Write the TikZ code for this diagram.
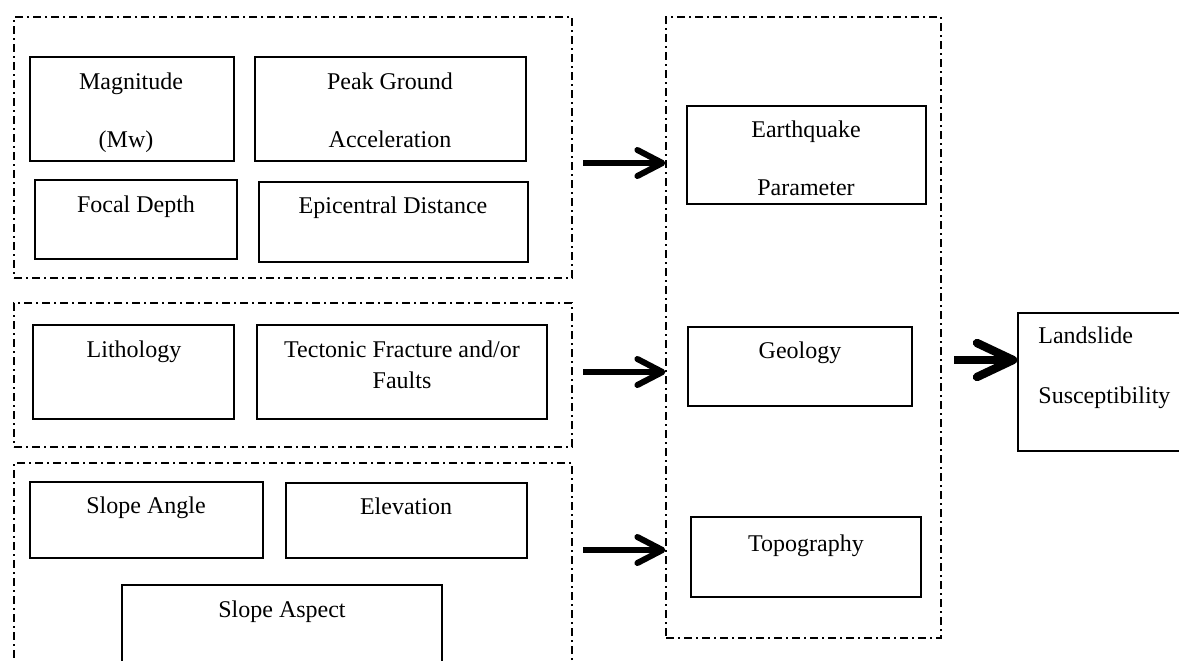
\documentclass[tikz,border=0pt]{standalone}
\usepackage{fontspec}
\setmainfont{Liberation Serif}
\usetikzlibrary{arrows.meta,fit}
\begin{document}
\begin{tikzpicture}[x=0.5pt,y=-0.5pt,
  grp/.style={draw, line width=0.6pt, dash pattern=on 4pt off 2pt on 1pt off 2pt, inner sep=0pt},
  box/.style={draw, line width=0.8pt, inner sep=0pt},
  lbl/.style={anchor=base, inner sep=0pt, font=\fontsize{12pt}{14pt}\selectfont},
  lbll/.style={anchor=base west, inner sep=0pt, font=\fontsize{12pt}{14pt}\selectfont},
  arr/.style={line width=2.6pt, -{Straight Barb[length=12.5pt,width=13pt,line width=3pt,round]}},
  bigarr/.style={line width=4pt, -{Straight Barb[length=18pt,width=17pt,line width=4.2pt,round]}}]
\useasboundingbox (0,0) rectangle (1179,660);
\clip (0,0) rectangle (1179,660);

% groups
\node[grp, fit={(14,17) (572,278)}] (g1) {};
\node[grp, fit={(14,303) (572,447)}] (g2) {};
\node[grp, fit={(14,463) (572,690)}] (g3) {};
\node[grp, fit={(666,17) (941,638)}] (cg) {};

% earthquake group boxes
\node[box, fit={(30,57) (234,161)}] (mag) {};
\node[box, fit={(255,57) (526,161)}] (pga) {};
\node[box, fit={(35,180) (237,259)}] (fd) {};
\node[box, fit={(259,182) (528,262)}] (ed) {};
\node[lbl] (tmag1) at (131,89) {Magnitude};
\node[lbl] (tmag2) at (126,147) {(Mw)};
\node[lbl] (tpga1) at (390,89) {Peak Ground};
\node[lbl] (tpga2) at (390,147) {Acceleration};
\node[lbl] (tfd) at (136,212) {Focal Depth};
\node[lbl] (ted) at (393,213) {Epicentral Distance};

% geology group boxes
\node[box, fit={(33,325) (234,419)}] (lit) {};
\node[box, fit={(257,325) (547,419)}] (tec) {};
\node[lbl] (tlit) at (134,357) {Lithology};
\node[lbl] (ttec1) at (402,357) {Tectonic Fracture and/or};
\node[lbl] (ttec2) at (402,388) {Faults};

% topography group boxes
\node[box, fit={(30,482) (263,558)}] (sa) {};
\node[box, fit={(286,483) (527,558)}] (el) {};
\node[box, fit={(122,585) (442,690)}] (asp) {};
\node[lbl] (tsa) at (146,513) {Slope Angle};
\node[lbl] (tel) at (406,514) {Elevation};
\node[lbl] (tasp) at (282,617) {Slope Aspect};

% centre column
\node[box, fit={(687,106) (926,204)}] (eq) {};
\node[box, fit={(688,327) (912,406)}] (geo) {};
\node[box, fit={(691,517) (921,597)}] (topo) {};
\node[lbl] (teq1) at (806,137) {Earthquake};
\node[lbl] (teq2) at (806,195) {Parameter};
\node[lbl] (tgeo) at (800,358) {Geology};
\node[lbl] (ttopo) at (806,551) {Topography};

% result
\node[box, fit={(1018,313) (1195,451)}] (ls) {};
\node[lbll] (tls1) at (1038,343) {Landslide};
\node[lbll] (tls2) at (1038,403) {Susceptibility};

% arrows
\coordinate (a1) at (583,163);
\coordinate (a2) at (583,372);
\coordinate (a3) at (583,550);
\coordinate (a4) at (954,360);
\draw[arr] (a1) -- (a1 -| cg.west);
\draw[arr] (a2) -- (a2 -| cg.west);
\draw[arr] (a3) -- (a3 -| cg.west);
\draw[bigarr] (a4) -- (a4 -| ls.west);
\end{tikzpicture}
\end{document}
